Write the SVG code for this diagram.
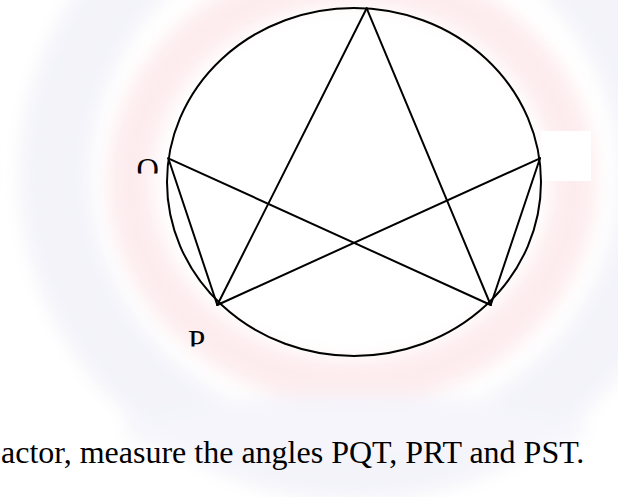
<svg xmlns="http://www.w3.org/2000/svg" width="618" height="497" viewBox="0 0 618 497">
  <style>
    .ln { stroke: #000; stroke-width: 2; fill: none; stroke-linecap: round; stroke-linejoin: miter; }
    .lbl { font-family: "Liberation Serif", "Times New Roman", serif; font-size: 31px; fill: #000; }
    .cap { font-family: "Liberation Serif", "Times New Roman", serif; font-size: 32px; fill: #000; }
  </style>
  <defs>
    <filter id="blur" x="-20%" y="-20%" width="140%" height="140%">
      <feGaussianBlur stdDeviation="9"/>
    </filter>
    <clipPath id="clipQ"><rect x="120" y="140" width="60" height="33.5"/></clipPath>
    <clipPath id="clipP"><rect x="170" y="315" width="60" height="31.5"/></clipPath>
  </defs>
  <rect width="618" height="497" fill="#fff"/>
  <g id="watermark" filter="url(#blur)" opacity="0.75">
    <ellipse cx="355" cy="175" rx="300" ry="290" fill="none" stroke="#efeff8" stroke-width="70"/>
    <ellipse cx="352" cy="182" rx="222" ry="200" fill="none" stroke="#fde6e9" stroke-width="45"/>
    <ellipse cx="355" cy="430" rx="230" ry="35" fill="#f2f2fa"/>
  </g>
  <rect x="541" y="131" width="50" height="50" fill="#fff"/>
  <g id="circle">
    <ellipse cx="354" cy="182" rx="187" ry="174" fill="#fff" class="ln"/>
  </g>
  <g id="connectors">
    <line class="ln" x1="366.7" y1="8.3" x2="217.3" y2="305"/>
    <line class="ln" x1="366.7" y1="8.3" x2="490.7" y2="305"/>
    <line class="ln" x1="168.3" y1="158.3" x2="490.7" y2="305"/>
    <line class="ln" x1="540" y1="158.3" x2="217.3" y2="305"/>
    <line class="ln" x1="168.3" y1="158.3" x2="217.3" y2="305"/>
    <line class="ln" x1="540" y1="158.3" x2="490.7" y2="305"/>
  </g>
  <g id="label-Q" clip-path="url(#clipQ)">
    <text class="lbl" x="136.5" y="180">Q</text>
  </g>
  <g id="label-P" clip-path="url(#clipP)">
    <text class="lbl" x="188" y="351.5">P</text>
  </g>
  <g id="caption">
    <text class="cap" x="1" y="462.7">actor, measure the angles PQT, PRT and PST.</text>
  </g>
</svg>
